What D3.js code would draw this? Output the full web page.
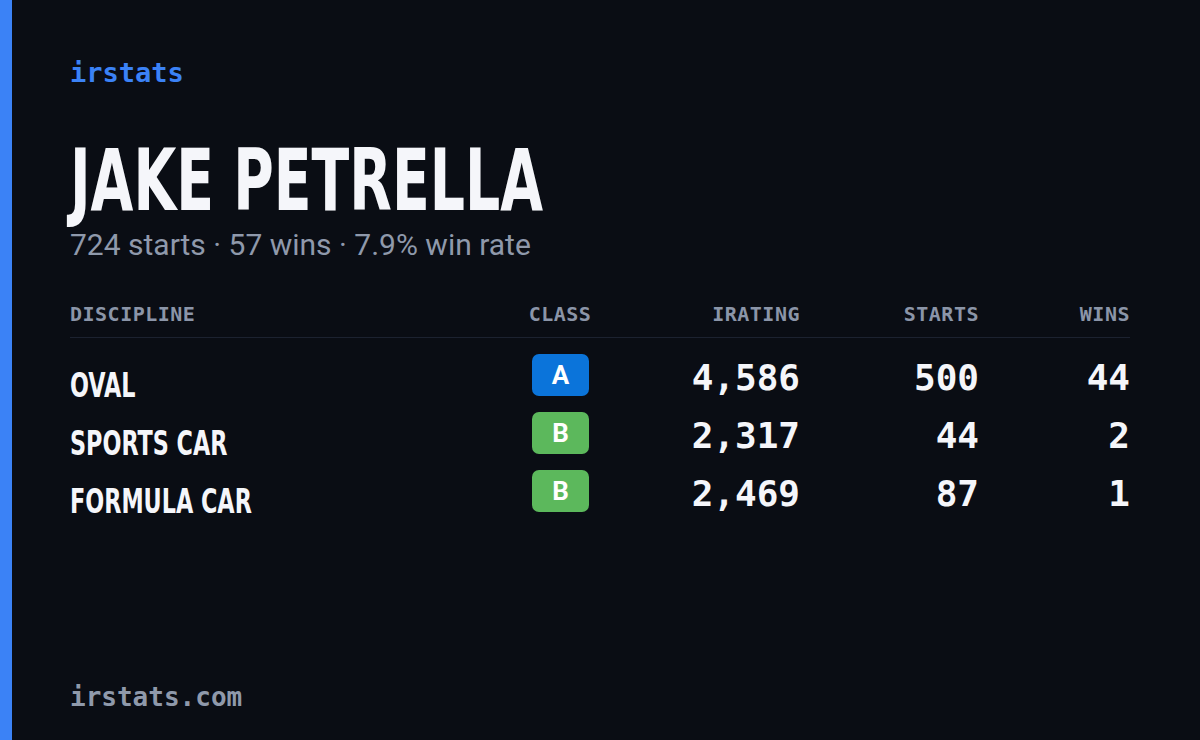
<!DOCTYPE html>
<html><head><meta charset="utf-8">
<script src="https://cdn.jsdelivr.net/npm/d3@7"></script>
<style>body{margin:0;background:#0a0d14;}</style></head>
<body><svg id="c" width="1200" height="740"></svg>
<script>
const disciplines = ["OVAL","SPORTS CAR","FORMULA CAR"];
const classes = ["A","B","B"];
const iratings = [4586,2317,2469];
const starts = [500,44,87];
const wins = [44,2,1];
const totals = {starts:724, wins:57, winRate:"7.9%"};
const headers = ["DISCIPLINE","CLASS","IRATING","STARTS","WINS"];
const classColor = {A:"#0b74da", B:"#5cb85c"};

const svg = d3.select("#c");
const mono = "'DejaVu Sans Mono', 'Liberation Mono', monospace";
const cond = "'DejaVu Sans Condensed','DejaVu Sans', sans-serif";
svg.append("rect").attr("width",1200).attr("height",740).attr("fill","#0a0d14");
svg.append("rect").attr("width",12).attr("height",740).attr("fill","#3b82f6");
svg.append("text").attr("x",70).attr("y",82).text("irstats").attr("fill","#3b82f6").attr("font-family",mono).attr("font-weight",600).attr("font-size",27);
svg.append("text").attr("x",0).attr("y",0).text("JAKE PETRELLA").attr("fill","#f5f6fa").attr("font-family",cond).attr("font-weight",700).attr("font-size",86).attr("transform","translate(70,210) scale(0.715,1)");
svg.append("text").attr("x",70).attr("y",255).text(`${totals.starts} starts · ${totals.wins} wins · ${totals.winRate} win rate`).attr("fill","#8f99ab").attr("font-family","Roboto, sans-serif").attr("font-size",30);

const colX = [70,560,800,979,1130];
const anchors = ["start","middle","end","end","end"];
headers.forEach((h,i)=>svg.append("text").attr("x",colX[i]).attr("y",321).attr("text-anchor",anchors[i]).text(h).attr("fill","#8b95a8").attr("font-family",mono).attr("font-weight",600).attr("font-size",20).attr("letter-spacing",0.5));
svg.append("line").attr("x1",70).attr("x2",1130).attr("y1",337.5).attr("y2",337.5).attr("stroke","#1c2230");

const y = d3.scalePoint().domain(d3.range(disciplines.length)).range([375,491]);
const fmt = d3.format(",");
disciplines.forEach((d,i)=>{
  const yy=y(i);
  svg.append("text").attr("x",0).attr("y",0).text(d).attr("fill","#f5f6fa").attr("font-family",cond).attr("font-weight",700).attr("font-size",34).attr("transform",`translate(70,${yy+22}) scale(0.73,1)`);
  svg.append("rect").attr("x",532).attr("y",yy-21).attr("width",57).attr("height",42).attr("rx",7).attr("fill",classColor[classes[i]]);
  svg.append("text").attr("x",560.5).attr("y",yy+9).attr("text-anchor","middle").text(classes[i]).attr("fill","#fff").attr("font-family","Roboto, sans-serif").attr("font-weight",700).attr("font-size",26);
  [fmt(iratings[i]),starts[i],wins[i]].forEach((v,j)=>svg.append("text").attr("x",colX[j+2]).attr("y",yy+15).attr("text-anchor","end").text(v).attr("fill","#f5f6fa").attr("font-family",mono).attr("font-weight",600).attr("font-size",36));
});
svg.append("text").attr("x",70).attr("y",706).text("irstats.com").attr("fill","#8f99ab").attr("font-family",mono).attr("font-weight",600).attr("font-size",26);
</script></body></html>
